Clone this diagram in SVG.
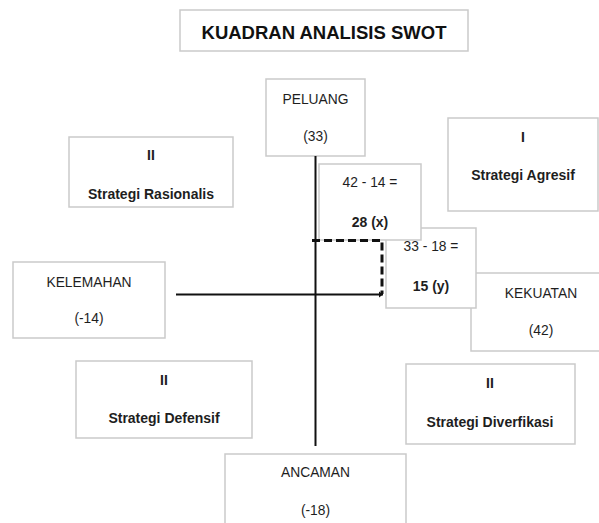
<svg xmlns="http://www.w3.org/2000/svg" width="599" height="523" viewBox="0 0 599 523">
<defs>
<style>
.box{fill:#ffffff;stroke:#cacaca;stroke-width:1.5}
.t{font-family:"Liberation Sans",Arial,sans-serif;font-size:13.8px;fill:#1e1e1e;text-anchor:middle}
.b{font-weight:bold;font-size:14px}
.title{font-family:"Liberation Sans",Arial,sans-serif;font-size:18.5px;font-weight:bold;fill:#111;text-anchor:middle}
.axis{stroke:#111;stroke-width:2;fill:none}
.dash{stroke:#111;stroke-width:3;fill:none;stroke-dasharray:8 4}
</style>
<marker id="tip" viewBox="0 0 4 8" refX="4" refY="4" markerWidth="4" markerHeight="8" markerUnits="userSpaceOnUse" orient="auto">
<path d="M0,1 L4,4 L0,7 Z" fill="#111"/>
</marker>
</defs>
<rect width="599" height="523" fill="#ffffff"/>
<g id="title">
<rect class="box" x="180" y="10" width="288" height="41"/>
<text class="title" x="324" y="39">KUADRAN ANALISIS SWOT</text>
</g>
<g id="peluang">
<rect class="box" x="266" y="79" width="99" height="77"/>
<text class="t" x="315.5" y="104">PELUANG</text>
<text class="t" x="315.5" y="141">(33)</text>
</g>
<g id="rasionalis">
<rect class="box" x="69" y="137" width="164" height="70"/>
<text class="t b" x="151" y="160">II</text>
<text class="t b" x="151" y="199">Strategi Rasionalis</text>
</g>
<g id="agresif">
<rect class="box" x="448" y="118" width="150" height="93"/>
<text class="t b" x="523" y="142">I</text>
<text class="t b" x="523" y="180">Strategi Agresif</text>
</g>
<g id="kekuatan">
<rect class="box" x="471" y="273" width="140" height="78"/>
<text class="t" x="541" y="298">KEKUATAN</text>
<text class="t" x="541" y="335">(42)</text>
</g>
<g id="nilai-y">
<rect class="box" x="386" y="228" width="90" height="80"/>
<text class="t" x="431" y="251">33 - 18 =</text>
<text class="t b" x="431" y="291">15 (y)</text>
</g>
<g id="nilai-x">
<rect class="box" x="319" y="164" width="102" height="76"/>
<text class="t" x="370" y="187">42 - 14 =</text>
<text class="t b" x="370" y="227">28 (x)</text>
</g>
<g id="kelemahan">
<rect class="box" x="13" y="262" width="152" height="76"/>
<text class="t" x="89" y="287">KELEMAHAN</text>
<text class="t" x="89" y="323">(-14)</text>
</g>
<g id="defensif">
<rect class="box" x="76" y="361" width="176" height="77"/>
<text class="t b" x="164" y="385">II</text>
<text class="t b" x="164" y="423">Strategi Defensif</text>
</g>
<g id="diverfikasi">
<rect class="box" x="406" y="364" width="169" height="80"/>
<text class="t b" x="490" y="388">II</text>
<text class="t b" x="490" y="427">Strategi Diverfikasi</text>
</g>
<g id="ancaman">
<rect class="box" x="225" y="454" width="181" height="80"/>
<text class="t" x="315.5" y="477">ANCAMAN</text>
<text class="t" x="315.5" y="515">(-18)</text>
</g>
<g id="connectors">
<line class="axis" x1="315.5" y1="156" x2="315.5" y2="446"/>
<line class="axis" x1="176" y1="294.5" x2="383" y2="294.5" marker-end="url(#tip)"/>
<path class="dash" d="M312,240.5 H382 V294"/>
</g>
</svg>
